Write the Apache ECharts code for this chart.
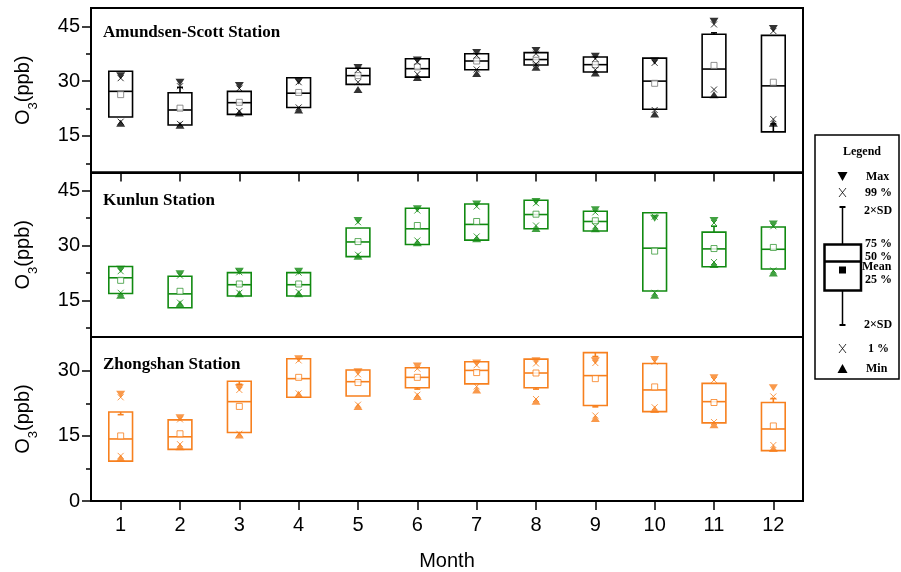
<!DOCTYPE html>
<html>
<head>
<meta charset="utf-8">
<script src="https://cdn.jsdelivr.net/npm/echarts@6/dist/echarts.min.js"></script>
<style>html,body{margin:0;padding:0;background:#fff}#c{width:901px;height:572px}</style>
</head>
<body>
<div id="c"></div>
<script>
const months = ['1','2','3','4','5','6','7','8','9','10','11','12'];
const stations = ['Amundsen-Scott Station','Kunlun Station','Zhongshan Station'];

// Amundsen-Scott
const asQ3   = [32.7,26.8,27.2,30.9,33.5,36.1,37.5,37.8,36.6,36.3,42.8,42.5];
const asMed  = [27.2,22.1,24.1,26.7,31.5,33.4,35.5,35.9,34.5,30.0,33.3,28.7];
const asQ1   = [20.2,18.0,20.9,22.8,29.1,31.1,33.1,34.4,32.5,22.3,25.6,16.1];
const asMean = [26.3,22.6,24.2,26.9,31.5,33.9,35.5,35.7,34.5,29.4,34.3,29.7];
const asMax  = [31.5,29.7,28.8,30.0,33.7,35.8,37.8,38.4,36.8,35.5,46.4,44.4];
const asP99  = [30.8,28.6,28.0,29.7,33.1,35.2,37.0,37.5,36.1,35.0,45.5,43.7];
const asP1   = [18.9,18.3,21.8,22.8,29.7,31.9,33.2,34.7,33.1,22.1,27.7,19.6];
const asMin  = [18.5,17.9,21.3,22.1,27.7,31.0,32.1,33.8,32.2,21.0,26.3,18.5];
const asSdHi = [null,28.3,null,null,null,null,null,null,null,null,43.2,null];
const asSdLo = [null,null,null,null,null,null,null,null,null,null,null,18.3];

// Kunlun
const klQ3   = [24.3,21.6,22.6,22.6,34.8,40.2,41.4,42.4,39.4,39.0,33.7,35.1];
const klMed  = [21.2,16.8,19.3,19.3,31.0,34.6,35.8,38.5,36.6,29.3,29.1,29.0];
const klQ1   = [16.9,13.0,16.2,16.2,27.0,30.3,31.5,34.6,34.0,17.6,24.2,23.6];
const klMean = [20.5,17.5,19.5,19.5,31.1,35.5,36.6,38.6,36.8,28.5,29.2,29.5];
const klMax  = [23.5,22.3,23.0,23.0,36.9,40.1,41.4,42.1,39.8,37.5,36.9,35.9];
const klP99  = [23.0,21.8,22.7,22.6,36.4,39.6,40.7,41.6,39.1,37.9,36.2,35.3];
const klP1   = [17.1,14.4,17.1,17.3,27.5,31.4,32.5,35.5,35.3,17.1,25.5,23.2];
const klMin  = [16.4,14.0,16.8,16.8,27.1,30.8,31.9,34.7,34.6,16.4,24.8,22.5];
const klSdHi = [null,null,null,null,null,null,null,null,null,null,35.3,null];
const klSdLo = [null,null,null,null,null,null,null,null,null,null,null,null];

// Zhongshan
const zsQ3   = [20.5,18.7,27.6,32.8,30.2,30.7,32.1,32.7,34.2,31.7,27.1,22.7];
const zsMed  = [14.3,14.8,22.9,28.2,27.5,28.5,30.1,29.5,28.9,25.6,22.9,16.6];
const zsQ1   = [9.2,11.9,15.8,23.9,24.2,26.1,27.0,26.1,22.0,20.6,18.0,11.6];
const zsMean = [15.0,15.5,21.8,28.5,27.3,28.5,29.6,29.5,28.2,26.3,22.7,17.3];
const zsMax  = [24.6,19.2,26.1,32.8,29.8,31.1,31.8,32.3,32.3,32.6,28.4,26.1];
const zsP99  = [23.9,18.8,25.6,32.4,29.2,30.5,31.3,31.7,31.8,32.1,27.9,24.1];
const zsP1   = [10.4,13.1,15.5,24.8,22.2,24.5,26.4,23.5,19.7,21.6,18.2,12.9];
const zsMin  = [9.9,12.5,15.2,24.6,21.8,24.1,25.6,23.0,19.0,21.1,17.6,12.1];
const zsSdHi = [19.9,null,26.9,null,null,null,null,null,33.3,null,null,23.6];
const zsSdLo = [null,null,null,null,null,25.8,null,25.8,21.7,null,null,null];

const yMajor = [[15,30,45],[15,30,45],[0,15,30]];
const yMinor = [[7.5,22.5,37.5],[7.5,22.5,37.5],[7.5,22.5]];
const yRange = [[5,50],[5,50],[0,37.8]];

const colors = ['#000000','#118a11','#f7801e'];
const meanColors = ['#777777','#3a9a3a','#f7801e'];

const panels = [
  {q1:asQ1,med:asMed,q3:asQ3,mean:asMean,max:asMax,p99:asP99,p1:asP1,min:asMin,hi:asSdHi,lo:asSdLo},
  {q1:klQ1,med:klMed,q3:klQ3,mean:klMean,max:klMax,p99:klP99,p1:klP1,min:klMin,hi:klSdHi,lo:klSdLo},
  {q1:zsQ1,med:zsMed,q3:zsQ3,mean:zsMean,max:zsMax,p99:zsP99,p1:zsP1,min:zsMin,hi:zsSdHi,lo:zsSdLo}
];

const gridTops = [8, 172.5, 337];
const gridHeights = [164.5, 164.5, 165];
const FONT = 'Liberation Sans, Arial, sans-serif';
const XPATH = 'path://M0,0L10,10M10,0L0,10';

const grids = [], xAxes = [], yAxes = [], series = [], titles = [];
panels.forEach((p, i) => {
  grids.push({left: 91, right: 98, top: gridTops[i], height: gridHeights[i],
    show: true, borderColor: '#000', borderWidth: 2, backgroundColor: 'transparent'});
  const isLast = i === 2;
  xAxes.push({type: 'category', data: months, gridIndex: i, position: 'bottom',
    axisLine: {show: true, lineStyle: {color: '#000', width: 2}},
    axisTick: {show: isLast, inside: false, alignWithLabel: true, length: 9, lineStyle: {width: 1.5, color: '#000'}},
    axisLabel: {show: isLast, fontSize: 20, color: '#000', fontFamily: FONT, margin: 14},
    name: isLast ? 'Month' : '', nameLocation: 'middle', nameGap: 50,
    nameTextStyle: {fontSize: 20, color: '#000', fontFamily: FONT},
    splitLine: {show: false}});
  xAxes.push({type: 'category', data: months, gridIndex: i, position: 'top',
    axisLine: {show: true, lineStyle: {color: '#000', width: 2}},
    axisTick: {show: i > 0, inside: true, alignWithLabel: true, length: 9, lineStyle: {width: 1.5, color: '#000'}},
    axisLabel: {show: false}, splitLine: {show: false}});
  yAxes.push({type: 'value', gridIndex: i, position: 'left', min: yRange[i][0], max: yRange[i][1],
    axisLine: {show: true, lineStyle: {color: '#000', width: 2}},
    axisTick: {show: true, length: 9, customValues: yMajor[i], lineStyle: {width: 1.5, color: '#000'}},
    axisLabel: {show: true, customValues: yMajor[i], fontSize: 20, color: '#000', fontFamily: FONT, margin: 11},
    splitLine: {show: false},
    name: '{n|O}{s|3}{n|(ppb)}', nameLocation: 'middle', nameGap: 57, nameRotate: 90,
    nameTextStyle: {color: '#000', fontFamily: FONT,
      rich: {n: {fontSize: 20, fontFamily: FONT, color: '#000', lineHeight: 22},
             s: {fontSize: 13, fontFamily: FONT, color: '#000', verticalAlign: 'bottom', lineHeight: 14, padding: [0,0,-6,0]}}}});
  yAxes.push({type: 'value', gridIndex: i, position: 'left', offset: 0, min: yRange[i][0], max: yRange[i][1],
    axisLine: {show: false},
    axisTick: {show: true, length: 5, customValues: yMinor[i], lineStyle: {width: 1.5, color: '#000'}},
    axisLabel: {show: false}, splitLine: {show: false}});

  const xi = i * 2, yi = i * 2;
  const c = colors[i];
  const boxData = months.map((m, k) => [k, p.q1[k], p.med[k], p.q3[k],
    p.lo[k] == null ? '-' : p.lo[k], p.hi[k] == null ? '-' : p.hi[k]]);
  series.push({type: 'custom', xAxisIndex: xi, yAxisIndex: yi, data: boxData, z: 2,
    encode: {x: 0, y: [1, 2, 3]},
    renderItem: function (params, api) {
      const k = api.value(0);
      const w = api.size([1, 0])[0] * 0.4;
      const pq1 = api.coord([k, api.value(1)]);
      const pmed = api.coord([k, api.value(2)]);
      const pq3 = api.coord([k, api.value(3)]);
      const lo = api.value(4), hi = api.value(5);
      const st = {stroke: c, fill: 'none', lineWidth: 1.6};
      const ch = [
        {type: 'rect', shape: {x: pq1[0] - w / 2, y: pq3[1], width: w, height: pq1[1] - pq3[1]}, style: st},
        {type: 'line', shape: {x1: pmed[0] - w / 2, y1: pmed[1], x2: pmed[0] + w / 2, y2: pmed[1]}, style: st}
      ];
      if (!isNaN(hi)) {
        const ph = api.coord([k, hi]);
        ch.push({type: 'line', shape: {x1: ph[0], y1: pq3[1], x2: ph[0], y2: ph[1]}, style: st});
        ch.push({type: 'line', shape: {x1: ph[0] - 3, y1: ph[1], x2: ph[0] + 3, y2: ph[1]}, style: st});
      }
      if (!isNaN(lo)) {
        const pl = api.coord([k, lo]);
        ch.push({type: 'line', shape: {x1: pl[0], y1: pq1[1], x2: pl[0], y2: pl[1]}, style: st});
        ch.push({type: 'line', shape: {x1: pl[0] - 3, y1: pl[1], x2: pl[0] + 3, y2: pl[1]}, style: st});
      }
      return {type: 'group', children: ch};
    }});
  const sc = (data, symbol, size, rot, style, z) => ({type: 'scatter', xAxisIndex: xi, yAxisIndex: yi,
    data: data, symbol: symbol, symbolSize: size, symbolRotate: rot, itemStyle: style, z: z,
    silent: true, emphasis: {disabled: true}});
  series.push(sc(p.mean, 'rect', 6, 0, {color: '#fff', borderColor: meanColors[i], borderWidth: 1}, 3));
  series.push(sc(p.max, 'triangle', [9, 7], 180, {color: c}, 4));
  series.push(sc(p.min, 'triangle', [9, 7], 0, {color: c}, 4));
  series.push(sc(p.p99, XPATH, 6, 0, {color: 'none', borderColor: c, borderWidth: 1}, 5));
  series.push(sc(p.p1, XPATH, 6, 0, {color: 'none', borderColor: c, borderWidth: 1}, 5));
  titles.push({text: stations[i], left: 98, top: [19, 187, 351][i],
    textStyle: {fontFamily: 'Liberation Serif, serif', fontWeight: 'bold', fontSize: 17, color: '#000'}});
});

// Legend panel (decorative key)
const LX = 842.5;
const lfont = 'bold 12px "Liberation Serif", serif';
const ltxt = (t, x, y, align) => ({type: 'text', style: {text: t, x: x, y: y, font: lfont, fill: '#000',
  align: align || 'left', verticalAlign: 'middle', textAlign: align || 'left', textVerticalAlign: 'middle'}});
const lline = (x1, y1, x2, y2, w) => ({type: 'line', shape: {x1, y1, x2, y2}, style: {stroke: '#000', lineWidth: w}});
const graphic = [
  {type: 'rect', shape: {x: 815, y: 135, width: 84, height: 244}, style: {fill: '#fff', stroke: '#000', lineWidth: 1.5}},
  ltxt('Legend', 862, 152, 'center'),
  {type: 'polygon', shape: {points: [[LX - 5, 172], [LX + 5, 172], [LX, 181]]}, style: {fill: '#000'}},
  ltxt('Max', 866, 177),
  lline(LX - 3.5, 188, LX + 3.5, 197, 0.8), lline(LX + 3.5, 188, LX - 3.5, 197, 0.8),
  ltxt('99 %', 865, 193),
  lline(LX - 3, 207, LX + 3, 207, 2), lline(LX, 207, LX, 244, 1.5),
  ltxt('2×SD', 864, 211),
  {type: 'rect', shape: {x: 824.5, y: 244.5, width: 36.5, height: 46}, style: {fill: 'none', stroke: '#000', lineWidth: 2.5}},
  lline(824.5, 261.5, 861, 261.5, 2.5),
  {type: 'rect', shape: {x: LX - 3.5, y: 266.5, width: 7, height: 7}, style: {fill: '#000'}},
  ltxt('75 %', 865, 244), ltxt('50 %', 865, 257), ltxt('Mean', 862, 267), ltxt('25 %', 865, 280),
  lline(LX, 290.5, LX, 325, 1.5), lline(LX - 3, 325, LX + 3, 325, 2),
  ltxt('2×SD', 864, 325),
  lline(LX - 3.5, 344, LX + 3.5, 353, 0.8), lline(LX + 3.5, 344, LX - 3.5, 353, 0.8),
  ltxt('1 %', 868, 349),
  {type: 'polygon', shape: {points: [[LX - 5, 373], [LX + 5, 373], [LX, 364]]}, style: {fill: '#000'}},
  ltxt('Min', 866, 369)
];

const chart = echarts.init(document.getElementById('c'), null, {renderer: 'canvas'});
chart.setOption({
  backgroundColor: '#fff',
  animation: false,
  title: titles,
  grid: grids,
  xAxis: xAxes,
  yAxis: yAxes,
  series: series,
  graphic: graphic
});
</script>
</body>
</html>
